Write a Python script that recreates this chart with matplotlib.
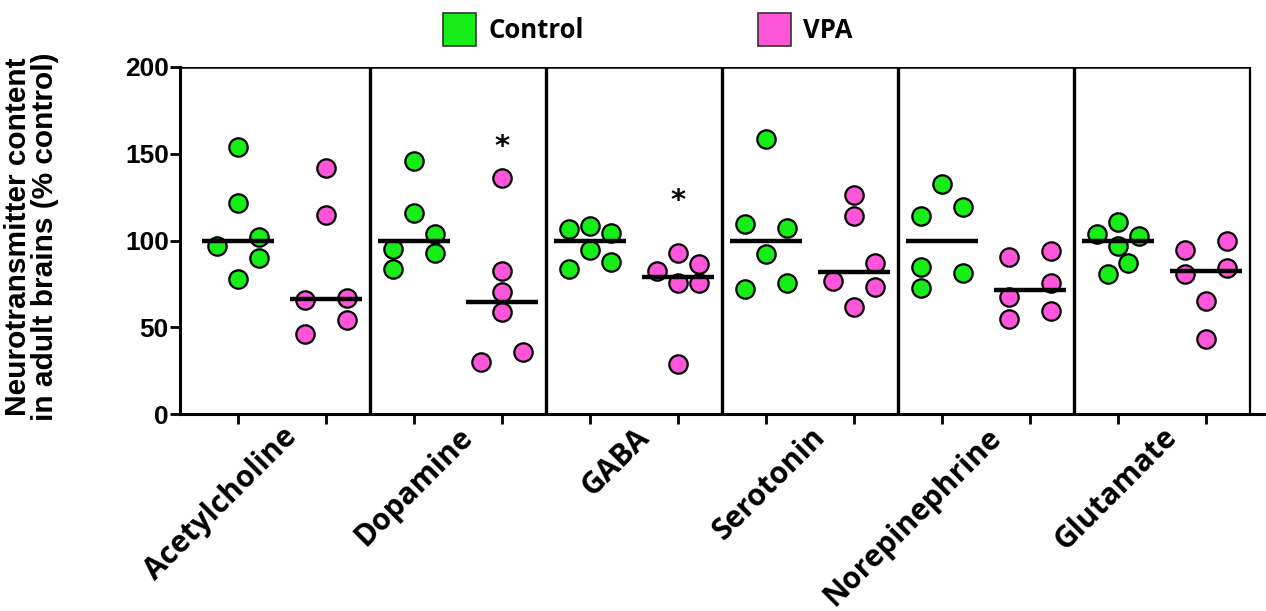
import matplotlib
matplotlib.use("Agg")
import matplotlib.pyplot as plt
from matplotlib.patches import Rectangle

# ---- data (% of control) ----
transmitters = ["Acetylcholine", "Dopamine", "GABA", "Serotonin", "Norepinephrine", "Glutamate"]
groups = ["Control", "VPA"]

ctrl_values = [
    [154.1, 121.4, 96.8, 101.8, 89.7, 77.6],
    [145.8, 116.0, 103.6, 95.1, 92.6, 83.6],
    [106.6, 108.5, 104.5, 94.5, 83.6, 87.8],
    [158.3, 109.5, 107.0, 92.2, 71.9, 75.3],
    [132.4, 114.3, 119.5, 84.9, 81.4, 72.4],
    [110.8, 103.7, 102.6, 96.8, 86.9, 80.7],
]
vpa_values = [
    [142.0, 114.7, 65.7, 66.7, 46.1, 54.2],
    [136.2, 82.4, 70.1, 59.0, 29.8, 35.6],
    [92.6, 82.6, 86.5, 75.3, 75.3, 28.6],
    [126.2, 114.3, 87.2, 76.8, 73.4, 61.5],
    [90.7, 94.1, 75.7, 67.6, 54.6, 59.5],
    [99.9, 94.5, 84.0, 80.5, 65.1, 43.2],
]
ctrl_medians = [100, 100, 100, 100, 100, 100]
vpa_medians = [66.3, 64.7, 79.0, 81.7, 71.5, 82.4]
significant = [False, True, True, False, False, False]   # VPA vs control
star_y = [None, 154, 123, None, None, None]

# horizontal spread of the dots (in dot-widths), kept apart from the values
ctrl_offsets = [
    [0, 0, -1, 1, 1, 0],
    [0, 0, 1, -1, 1, -1],
    [-1, 0, 1, 0, -1, 1],
    [0, -1, 1, 0, -1, 1],
    [0, -1, 1, -1, 1, -1],
    [0, -1, 1, 0, 0.5, -0.5],
]
vpa_offsets = [
    [0, 0, -1, 1, -1, 1],
    [0, 0, 0, 0, -1, 1],
    [0, -1, 1, 0, 1, 0],
    [0, 0, 1, -1, 1, 0],
    [-1, 1, 1, -1, -1, 1],
    [1, -1, 1, -1, 0, 0],
]

GREEN, PINK = "#17ee17", "#ff55db"
STEP = 0.235   # one dot width in x units
HALF = 0.41    # half length of the median bar

fig = plt.figure(figsize=(12.66, 6.11), dpi=100)
ax = fig.add_axes([180 / 1266, 197 / 611, 1086 / 1266, 347 / 611])

for i in range(len(transmitters)):
    for j, (vals, offs, med, col) in enumerate([
            (ctrl_values[i], ctrl_offsets[i], ctrl_medians[i], GREEN),
            (vpa_values[i], vpa_offsets[i], vpa_medians[i], PINK)]):
        x0 = 2 * i + j
        xs = [x0 + o * STEP for o in offs]
        ax.scatter(xs, vals, s=175, color=col, edgecolor="black", linewidth=1.6, zorder=3)
        ax.hlines(med, x0 - HALF, x0 + HALF, color="black", lw=3.2, zorder=4)
    if significant[i]:
        ax.text(2 * i + 1, star_y[i], "*", ha="center", va="center", fontsize=21,
                fontweight="bold", family="DejaVu Sans")

# panel dividers and top/right border
for k in range(1, len(transmitters)):
    ax.vlines(2 * k - 0.5, 0, 200, color="black", lw=2.4, zorder=2)
ax.vlines(2 * len(transmitters) - 0.5, 0, 200, color="black", lw=1.6, zorder=2)
ax.hlines(200, -0.66, 2 * len(transmitters) - 0.5, color="black", lw=1.8, zorder=2)

ax.set_xlim(-0.66, 11.68)
ax.set_ylim(0, 200)
for s in ["top", "right"]:
    ax.spines[s].set_visible(False)
for s in ["left", "bottom"]:
    ax.spines[s].set_linewidth(2.2)

ax.set_yticks([0, 50, 100, 150, 200])
ax.tick_params(axis="y", length=7, width=2, labelsize=19, pad=1)
for lab in ax.get_yticklabels():
    lab.set_fontweight("bold")
    lab.set_family("Liberation Sans")

ax.set_xticks(range(2 * len(transmitters)))
ax.set_xticklabels([])
ax.tick_params(axis="x", which="major", length=7, width=2)
ax.set_xticks([2 * i + 0.5 for i in range(len(transmitters))], minor=True)
ax.set_xticklabels(transmitters, minor=True, rotation=45, ha="right",
                   rotation_mode="anchor", fontsize=21.5, fontweight="bold", family="Open Sans")
ax.tick_params(axis="x", which="minor", length=0, pad=6)

ax.set_ylabel("Neurotransmitter content\nin adult brains (% control)", fontsize=21.5,
              fontweight="bold", family="Liberation Sans", linespacing=0.98)
ax.yaxis.set_label_coords(-0.111, 0.51)

# legend drawn by hand across the top
for (x, col, name) in [(443, GREEN, groups[0]), (758, PINK, groups[1])]:
    fig.patches.append(Rectangle((x / 1266, 1 - 46 / 611), 33 / 1266, 33 / 611,
                                 transform=fig.transFigure, facecolor=col,
                                 edgecolor="#333333", lw=1.2))
    fig.text((x + 45) / 1266, 1 - 30 / 611, name, fontsize=18.5, fontweight="bold",
             family="Open Sans", va="center", ha="left")

fig.savefig("out.png", dpi=100)
